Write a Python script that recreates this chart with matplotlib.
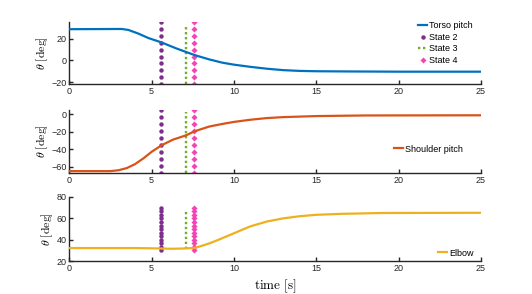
import matplotlib
matplotlib.use('Agg')
import matplotlib.pyplot as plt
import numpy as np

# joint trajectories
torso_t = [0, 3.2, 3.6, 4.2, 4.8, 5.6, 6.5, 7.6, 8.5, 9.3, 10, 11, 12, 13, 14, 15, 17, 20, 25]
torso_y = [28.5, 28.7, 27.8, 24.5, 20.5, 16.5, 11, 5, 1, -2, -3.8, -5.8, -7.5, -8.8, -9.5, -9.8, -10, -10.2, -10.2]

shoulder_t = [0, 2.5, 3, 3.5, 4, 4.5, 5, 5.6, 6.3, 7.1, 7.6, 8.5, 9.3, 10, 11, 12, 13, 15, 18, 25]
shoulder_y = [-65, -65, -64, -61.5, -57, -50.5, -43, -35.5, -29, -24, -19.5, -14, -11, -8.7, -6.2, -4.3, -3.2, -2, -1.3, -1.1]

elbow_t = [0, 4, 5.5, 6.2, 7, 7.6, 8, 8.5, 9, 10, 11, 12, 13, 14, 15, 16.5, 19, 25]
elbow_y = [32.2, 32.2, 31.8, 31.5, 31.8, 32.3, 34, 36.5, 39.5, 46, 52.5, 57, 60, 62, 63.3, 64.2, 65, 65.2]

# state switching times
state2_t = 5.6
state3_t = 7.08
state4_t = 7.6

# marker heights for the state columns, per panel
top_marks = [-21.5, -15.2, -8.9, -2.7, 3.6, 9.9, 16.2, 22.4, 28.7, 35]
top_green = [-21.5, 32.5]
mid_marks = [-67, -59, -51, -43, -35, -27, -19, -11, -3, 5]
mid_green = [-67, 3]
bot_marks = [30, 33.3, 36.7, 40, 43.3, 46.7, 50, 53.3, 56.7, 60, 63.3, 66.7, 70]
bot_green = [31, 68]

ylims = [(-21.5, 35), (-67, 5), (20, 80)]
yticks = [[-20, 0, 20], [-60, -40, -20, 0], [20, 40, 60, 80]]

c_blue = '#0072BD'
c_orange = '#D95319'
c_yellow = '#EDB120'
c_purple = '#7E2F8E'
c_green = '#77AC30'
c_pink = '#F244B4'

plt.rcParams['mathtext.fontset'] = 'cm'
plt.rcParams['font.family'] = 'Liberation Sans'

fig = plt.figure(figsize=(5.32, 2.94), dpi=100)
boxes = [[0.13, 0.714, 0.774, 0.211],
         [0.13, 0.412, 0.774, 0.214],
         [0.13, 0.112, 0.774, 0.218]]
axes = [fig.add_axes(b) for b in boxes]

curves = [(torso_t, torso_y, c_blue, 'Torso pitch'),
          (shoulder_t, shoulder_y, c_orange, 'Shoulder pitch'),
          (elbow_t, elbow_y, c_yellow, 'Elbow')]
marks = [(top_marks, top_green), (mid_marks, mid_green), (bot_marks, bot_green)]

handles = []
for i, ax in enumerate(axes):
    t, y, col, name = curves[i]
    m, g = marks[i]
    h0, = ax.plot(t, y, color=col, lw=1.6, label=name, zorder=3)
    h1, = ax.plot([state2_t] * len(m), m, 'o', color=c_purple, ms=3.2, mew=0, label='State 2')
    h2, = ax.plot([state3_t] * len(g), g, color=c_green, lw=1.7, ls=(0, (1, 1.1)),
                  label='State 3')
    h3, = ax.plot([state4_t] * len(m), m, 'D', color=c_pink, ms=3.1, mew=0, label='State 4')
    handles.append((h0, h1, h2, h3))

    ax.set_xlim(0, 25)
    ax.set_ylim(*ylims[i])
    ax.set_xticks([0, 5, 10, 15, 20, 25])
    ax.set_yticks(yticks[i])
    for s in ['top', 'right']:
        ax.spines[s].set_visible(False)
    for s in ['left', 'bottom']:
        ax.spines[s].set_linewidth(1.0)
        ax.spines[s].set_color('#262626')
    ax.tick_params(direction='in', length=3, width=1, labelsize=6.5,
                   colors='#262626', pad=2)
    ax.set_ylabel(r'$\theta\ [\mathrm{deg}]$', fontsize=8.5, labelpad=1)
    ax.patch.set_alpha(0)

leg_kw = dict(frameon=False, fontsize=6.5, handlelength=1.0, handletextpad=0.2,
              labelspacing=0.3, borderpad=0, borderaxespad=0)
axes[0].legend(handles=list(handles[0]), loc='upper left',
               bbox_to_anchor=(418 / 532, 1 - 21 / 294), bbox_transform=fig.transFigure,
               **leg_kw)
axes[1].legend(handles=[handles[1][0]], loc='center left',
               bbox_to_anchor=(394 / 532, 1 - 149 / 294), bbox_transform=fig.transFigure,
               **leg_kw)
axes[2].legend(handles=[handles[2][0]], loc='center left',
               bbox_to_anchor=(438 / 532, 1 - 253 / 294), bbox_transform=fig.transFigure,
               **leg_kw)

axes[2].set_xlabel(r'$\mathrm{time\ [s]}$', fontsize=9.5, labelpad=3)

fig.savefig('out.png', dpi=100)
